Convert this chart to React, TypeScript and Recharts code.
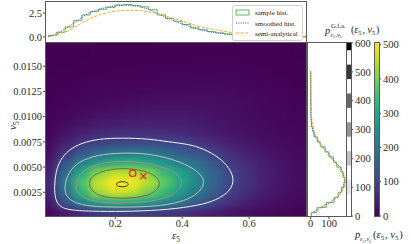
import React from 'react';
import { ScatterChart, Scatter, XAxis, YAxis, ReferenceArea } from 'recharts';

const W = 411;
const H = 244;
const FONT = "'Liberation Serif', 'DejaVu Serif', serif";

// ---- joint density p(eps5, v5) ----
const epsCols = [0, 0.05, 0.1, 0.15, 0.2, 0.25, 0.3, 0.35, 0.4, 0.45, 0.5, 0.55, 0.6, 0.65, 0.7, 0.75];
const vRows = [0.0005, 0.0015, 0.0025, 0.0035, 0.0045, 0.0055, 0.0065, 0.0075, 0.0085, 0.0095,
  0.0105, 0.0115, 0.0125, 0.0135, 0.0145, 0.0155, 0.0165, 0.0175];
const density = [
  [10, 38, 62, 78, 85, 85, 82, 76, 66, 52, 40, 27, 18, 12, 8, 5],
  [32, 128, 220, 285, 312, 300, 270, 230, 185, 140, 100, 65, 42, 28, 18, 11],
  [45, 180, 320, 430, 470, 455, 400, 330, 262, 195, 140, 92, 60, 39, 25, 16],
  [50, 200, 355, 465, 510, 500, 450, 375, 300, 225, 160, 105, 70, 45, 30, 18],
  [44, 175, 305, 410, 455, 450, 415, 335, 285, 215, 155, 102, 68, 44, 29, 18],
  [31, 123, 215, 275, 310, 320, 300, 255, 210, 180, 128, 85, 58, 38, 26, 16],
  [19, 77, 135, 170, 195, 200, 195, 175, 145, 125, 92, 62, 44, 30, 21, 14],
  [11, 43, 75, 95, 107, 110, 112, 108, 98, 75, 58, 42, 31, 22, 16, 11],
  [6, 25, 43, 55, 62, 64, 64, 62, 58, 46, 37, 28, 21, 16, 12, 8],
  [4, 14, 24, 32, 38, 42, 44, 44, 42, 37, 31, 24, 18, 13, 9, 6],
  [3, 8, 14, 19, 23, 27, 30, 31, 31, 29, 25, 20, 15, 11, 8, 5],
  [2, 5, 8, 11, 14, 17, 19, 21, 22, 22, 21, 18, 14, 10, 7, 4],
  [1, 3, 5, 7, 9, 11, 12, 14, 15, 16, 15, 13, 10, 8, 5, 3],
  [1, 2, 3, 4, 5, 6, 7, 8, 9, 10, 10, 9, 7, 5, 3, 2],
  [0, 1, 2, 2, 3, 3, 4, 4, 5, 5, 5, 5, 4, 3, 2, 1],
  [0, 0, 1, 1, 1, 2, 2, 2, 2, 3, 3, 3, 2, 2, 1, 1],
  [0, 0, 0, 1, 1, 1, 1, 1, 1, 1, 1, 1, 1, 1, 1, 0],
  [0, 0, 0, 0, 0, 0, 0, 1, 1, 1, 1, 1, 0, 0, 0, 0],
];

// ---- contour lines at 100..500 (eps5, v5) ----
const contour100 = [[0.018, 0.0031], [0.022, 0.0045], [0.035, 0.0057], [0.06, 0.0067], [0.1, 0.0074], [0.15, 0.0078],
  [0.22, 0.0079], [0.3, 0.0078], [0.36, 0.0075], [0.41, 0.0073], [0.45, 0.007], [0.5, 0.0062], [0.535, 0.0052],
  [0.557, 0.0039], [0.545, 0.0026], [0.5, 0.0017], [0.45, 0.0012], [0.36, 0.00078], [0.25, 0.0006], [0.15, 0.0006],
  [0.07, 0.0007], [0.035, 0.001], [0.02, 0.0018]];
const contour200 = [[0.048, 0.003], [0.056, 0.0042], [0.08, 0.0053], [0.13, 0.0061], [0.2, 0.0064], [0.28, 0.0064],
  [0.35, 0.006], [0.41, 0.0053], [0.45, 0.0045], [0.469, 0.0036], [0.455, 0.0026], [0.42, 0.0018], [0.36, 0.00125],
  [0.28, 0.00103], [0.18, 0.00102], [0.11, 0.00115], [0.07, 0.0016], [0.052, 0.0022]];
const contour300 = [[0.08, 0.0032], [0.09, 0.0042], [0.12, 0.005], [0.17, 0.0055], [0.23, 0.0056], [0.3, 0.0054],
  [0.36, 0.0048], [0.39, 0.0042], [0.402, 0.0035], [0.39, 0.0027], [0.36, 0.002], [0.3, 0.00155], [0.22, 0.0014],
  [0.15, 0.0015], [0.105, 0.0019], [0.086, 0.0025]];
const contour400 = [[0.12, 0.0034], [0.13, 0.0041], [0.16, 0.0046], [0.21, 0.0049], [0.26, 0.0048], [0.3, 0.0045],
  [0.325, 0.004], [0.335, 0.0034], [0.325, 0.0027], [0.3, 0.0022], [0.25, 0.0019], [0.2, 0.0019], [0.155, 0.0021],
  [0.13, 0.0026]];
const contour500 = [[0.201, 0.0033], [0.207, 0.00349], [0.221, 0.00358], [0.235, 0.00349], [0.241, 0.0033],
  [0.235, 0.00311], [0.221, 0.00302], [0.207, 0.00311]];
const contours = [contour100, contour200, contour300, contour400, contour500];
const contourColors = ['#f4f4f4', '#c2c2c2', '#959595', '#686868', '#2e2e2e'];

const modePoint = [{ x: 0.252, y: 0.0044 }];
const meanPoint = [{ x: 0.284, y: 0.0041 }];

// ---- top marginal (eps5) ----
const topHistWidth = 0.025;
const topHist = [0.15, 0.5, 1.05, 1.7, 2.3, 2.65, 2.9, 3.1, 3.35, 3.4, 3.3, 3.15, 2.85, 2.3, 1.95, 1.65, 1.3, 0.95,
  0.75, 0.55, 0.42, 0.3, 0.22, 0.16, 0.1, 0.08, 0.05, 0.04, 0.02, 0.02, 0.01];
const topEps = [0, 0.03, 0.06, 0.09, 0.12, 0.15, 0.18, 0.21, 0.24, 0.27, 0.3, 0.33, 0.36, 0.39, 0.42, 0.45, 0.48,
  0.51, 0.54, 0.57, 0.6, 0.65, 0.7, 0.77];
const topSmoothed = [0.05, 0.42, 1.05, 1.8, 2.5, 2.88, 3.15, 3.3, 3.3, 3.2, 2.9, 2.4, 1.9, 1.5, 1.1, 0.8, 0.55,
  0.4, 0.28, 0.2, 0.14, 0.08, 0.04, 0.02];
const topSemi = [0, 0.25, 0.65, 1.25, 1.85, 2.3, 2.6, 2.75, 2.8, 2.78, 2.65, 2.4, 2.1, 1.8, 1.45, 1.1, 0.88,
  0.68, 0.5, 0.37, 0.27, 0.16, 0.09, 0.04];

// ---- right marginal (v5) ----
const rightHistWidth = 0.0005;
const rightHist = [3, 35, 85, 128, 150, 168, 182, 187, 176, 165, 142, 125, 100, 78, 52, 36, 18, 12, 5, 3, 2, 1,
  0.5, 0.3, 0.2, 0, 0, 0, 0];
const rightV = [0, 0.0005, 0.001, 0.0015, 0.002, 0.0025, 0.003, 0.0035, 0.004, 0.0045, 0.005, 0.0055, 0.006,
  0.0065, 0.007, 0.0075, 0.008, 0.0085, 0.009, 0.0095, 0.01, 0.0105, 0.011, 0.0115, 0.012, 0.0125, 0.013,
  0.0135, 0.014, 0.0145];
const rightSmoothed = [0, 10, 58, 108, 145, 166, 178, 184, 183, 177, 160, 133, 112, 90, 69, 42, 25, 13, 6, 3,
  1.5, 1, 0.6, 0.4, 0.3, 0.2, 0.1, 0.1, 0, 0];
const rightSemi = [0, 8, 50, 100, 140, 168, 185, 190, 184, 170, 150, 128, 105, 82, 62, 45, 31, 20, 13, 8, 5, 3,
  2, 1.2, 0.8, 0.5, 0.3, 0.2, 0.1, 0.1];

// ---- colour bars ----
const VMAX = 505;
const viridisTicks = [0, 100, 200, 300, 400, 500];
const grayTicks = [0, 100, 200, 300, 400, 500, 600];
const grayLevels = [100, 200, 300, 400, 500, 600];
const grayLevelColors = ['#e6e6e6', '#c0c0c0', '#959595', '#686868', '#383838', '#000000'];

const VIRIDIS = ['#440154', '#482475', '#414487', '#355f8d', '#2a788e', '#21918c', '#22a884', '#44bf70',
  '#7ad151', '#bddf26', '#fde725'];

function viridis(t: number) {
  const c = Math.max(0, Math.min(1, t)) * 10;
  const i = Math.min(9, Math.floor(c));
  const f = c - i;
  const a = VIRIDIS[i];
  const b = VIRIDIS[i + 1];
  const ch = (s: string, k: number) => parseInt(s.slice(1 + 2 * k, 3 + 2 * k), 16);
  const mix = [0, 1, 2].map((k) => Math.round(ch(a, k) + (ch(b, k) - ch(a, k)) * f));
  return `rgb(${mix[0]},${mix[1]},${mix[2]})`;
}

const epsDomain = [-0.007, 0.77];
const vDomain = [0.00015, 0.0173];
const epsTicks = [0.2, 0.4, 0.6];
const vTicks = [0.0025, 0.005, 0.0075, 0.01, 0.0125, 0.015];

// plot boxes (pixels)
const HM = { l: 46, t: 43, r: 306, b: 216 };
const TOP = { l: 46, t: 2, r: 306, b: 42 };
const RT = { l: 308, t: 43, r: 346, b: 216 };
const GB = { l: 347, r: 351 };
const VB = { l: 375, r: 379 };

const cellW = ((HM.r - HM.l) / (epsDomain[1] - epsDomain[0])) * 0.05 + 1;
const cellH = ((HM.b - HM.t) / (vDomain[1] - vDomain[0])) * 0.001 + 1;

const heatData = vRows.flatMap((v, i) => epsCols.map((e, j) => ({ x: e, y: v, z: density[i][j] })));
const contourData = contours.map((c) => c.map(([x, y]) => ({ x, y })));

const stairs = (width: number, vals: number[]) => {
  const pts: { x: number; y: number }[] = [{ x: 0, y: 0 }];
  vals.forEach((h, i) => {
    pts.push({ x: i * width, y: h });
    pts.push({ x: (i + 1) * width, y: h });
  });
  pts.push({ x: vals.length * width, y: 0 });
  return pts;
};
const topHistData = stairs(topHistWidth, topHist);
const topSmoothData = topEps.map((x, i) => ({ x, y: topSmoothed[i] }));
const topSemiData = topEps.map((x, i) => ({ x, y: topSemi[i] }));
const rightHistData = stairs(rightHistWidth, rightHist).map((p) => ({ x: p.y, y: p.x }));
const rightSmoothData = rightV.map((y, i) => ({ x: rightSmoothed[i], y }));
const rightSemiData = rightV.map((y, i) => ({ x: rightSemi[i], y }));
const grayBarData = grayLevels.map((y) => ({ x: 0.5, y }));
const viridisBarData = viridisTicks.map((y) => ({ x: 0.5, y }));

const GREEN = '#5cb85c';
const BLUE = '#3b3bf5';
const ORANGE = '#ffa726';

const tickStyle = { fontSize: 10.5, fill: '#2a2a2a', fontFamily: FONT };
const Nothing = () => <g />;

const HeatCell = (props: any) => {
  const { cx, cy, payload } = props;
  if (cx == null || cy == null) return <g />;
  return (
    <rect x={cx - cellW / 2} y={cy - cellH / 2} width={cellW} height={cellH} fill={viridis(payload.z / VMAX)} />
  );
};

const RingMark = (props: any) => (
  <circle cx={props.cx} cy={props.cy} r={3.2} fill="none" stroke="#ff1a1a" strokeWidth={1.3} />
);
const CrossMark = (props: any) => {
  const { cx, cy } = props;
  const s = 3;
  return (
    <g stroke="#ff1a1a" strokeWidth={1.3}>
      <line x1={cx - s} y1={cy - s} x2={cx + s} y2={cy + s} />
      <line x1={cx - s} y1={cy + s} x2={cx + s} y2={cy - s} />
    </g>
  );
};

const layer: React.CSSProperties = { position: 'absolute', left: 0, top: 0 };

const curve = (data: { x: number; y: number }[], stroke: string, dash?: string) => (
  <Scatter
    data={data}
    shape={Nothing}
    line={{ stroke, strokeWidth: 1, strokeDasharray: dash, fill: 'none' }}
    isAnimationActive={false}
  />
);

const Box = ({ l, t, r, b }: { l: number; t: number; r: number; b: number }) => (
  <rect x={l - 0.5} y={t - 0.5} width={r - l + 1} height={b - t + 1} fill="none" stroke="#5a5a5a" strokeWidth={1} />
);

// a symbol with a subscript 5, e.g. ε₅ / v₅
const Sym = ({ s, size, sub, drop = 0.25 }: { s: string; size: number; sub: number; drop?: number }) => (
  <>
    <tspan fontStyle="italic" fontSize={size}>{s}</tspan>
    <tspan fontSize={sub} dy={size * drop}>5</tspan>
    <tspan fontSize={size} dy={-size * drop}>{'\u200a'}</tspan>
  </>
);

const Args = ({ x, y, size = 10.5 }: { x: number; y: number; size?: number }) => (
  <text x={x} y={y} fontSize={size} fill="#222">
    (<Sym s="ε" size={size} sub={size * 0.66} drop={0.18} />, <Sym s="v" size={size} sub={size * 0.66} drop={0.18} />)
  </text>
);

const SubPair = ({ x, y }: { x: number; y: number }) => (
  <text x={x} y={y} fontSize={6} fill="#222">
    <Sym s="ε" size={6} sub={4} />,<Sym s="v" size={6} sub={4} />
  </text>
);

export default function App() {
  return (
    <div style={{ position: 'absolute', left: 0, top: 0, width: W, height: H, background: '#fff', overflow: 'hidden', fontFamily: FONT }}>
      <style>{'.heat-cells { filter: url(#heatBlur); }'}</style>
      <svg width={0} height={0} style={{ position: 'absolute' }}>
        <defs>
          <filter id="heatBlur" x="-0.1" y="-0.1" width="1.2" height="1.2" colorInterpolationFilters="sRGB">
            <feGaussianBlur stdDeviation="5 3" />
            <feComponentTransfer>
              <feFuncA type="linear" slope={3} />
            </feComponentTransfer>
          </filter>
          <linearGradient id="viridisGrad" x1="0" y1="1" x2="0" y2="0">
            {VIRIDIS.map((c, i) => (
              <stop key={c} offset={`${i * 10}%`} stopColor={c} />
            ))}
          </linearGradient>
        </defs>
      </svg>

      {/* heatmap with contours */}
      <div style={layer}>
        <ScatterChart width={W} height={H} margin={{ top: HM.t, right: W - HM.r, bottom: 0, left: 0 }}>
          <XAxis type="number" dataKey="x" domain={epsDomain} allowDataOverflow ticks={epsTicks} interval={0}
            height={H - HM.b} tickSize={3} tickMargin={1} axisLine={false} tick={tickStyle}
            tickLine={{ stroke: '#444' }} tickFormatter={(v: number) => v.toFixed(1)} />
          <YAxis type="number" dataKey="y" domain={vDomain} allowDataOverflow ticks={vTicks} interval={0}
            width={HM.l} tickSize={3} tickMargin={1} axisLine={false} tick={tickStyle}
            tickLine={{ stroke: '#444' }} tickFormatter={(v: number) => v.toFixed(4)} />
          <Scatter className="heat-cells" data={heatData} shape={HeatCell} isAnimationActive={false} />
          {contourData.map((d, i) => (
            <Scatter key={`c${i}`} data={d} shape={Nothing} lineType="joint" lineJointType="basisClosed"
              line={{ stroke: contourColors[i], strokeWidth: 1, fill: 'none' }} isAnimationActive={false} />
          ))}
          <Scatter data={modePoint} shape={RingMark} isAnimationActive={false} />
          <Scatter data={meanPoint} shape={CrossMark} isAnimationActive={false} />
        </ScatterChart>
      </div>

      {/* top marginal */}
      <div style={layer}>
        <ScatterChart width={W} height={H} margin={{ top: TOP.t, right: W - TOP.r, bottom: H - TOP.b - 1, left: 0 }}>
          <XAxis type="number" dataKey="x" domain={epsDomain} allowDataOverflow ticks={epsTicks} interval={0}
            height={1} tickSize={3} tick={false} axisLine={false} tickLine={{ stroke: '#444' }} />
          <YAxis type="number" dataKey="y" domain={[-0.53, 3.66]} allowDataOverflow ticks={[0, 2.5]} interval={0}
            width={TOP.l} tickSize={3} tickMargin={1} axisLine={false} tick={tickStyle}
            tickLine={{ stroke: '#444' }} tickFormatter={(v: number) => v.toFixed(1)} />
          {curve(topHistData, GREEN)}
          {curve(topSmoothData, BLUE, '1 1.3')}
          {curve(topSemiData, ORANGE, '3 1.6')}
        </ScatterChart>
      </div>

      {/* right marginal */}
      <div style={layer}>
        <ScatterChart width={W} height={H} margin={{ top: RT.t, right: W - RT.r, bottom: 0, left: RT.l - 3 }}>
          <XAxis type="number" dataKey="x" domain={[-15, 193]} allowDataOverflow ticks={[0, 100]} interval={0}
            height={H - RT.b} tickSize={3} tickMargin={1} axisLine={false} tick={tickStyle}
            tickLine={{ stroke: '#444' }} />
          <YAxis type="number" dataKey="y" domain={vDomain} allowDataOverflow ticks={vTicks} interval={0}
            width={3} tickSize={3} tick={false} axisLine={false} tickLine={{ stroke: '#444' }} />
          {curve(rightHistData, GREEN)}
          {curve(rightSmoothData, BLUE, '1 1.3')}
          {curve(rightSemiData, ORANGE, '3 1.6')}
        </ScatterChart>
      </div>

      {/* contour-level colour bar */}
      <div style={layer}>
        <ScatterChart width={W} height={H} margin={{ top: HM.t, right: W - GB.r - 30, bottom: H - HM.b, left: GB.l }}>
          <XAxis type="number" dataKey="x" domain={[0, 1]} hide />
          <YAxis type="number" dataKey="y" orientation="right" domain={[0, 600]} ticks={grayTicks} interval={0}
            width={30} tickSize={2} tickMargin={2} axisLine={false} tick={{ ...tickStyle, textAnchor: 'start' }}
            tickLine={{ stroke: '#444' }} />
          {grayLevels.map((lv, i) => (
            <ReferenceArea key={lv} y1={lv - 25} y2={Math.min(600, lv + 25)} fill={grayLevelColors[i]}
              fillOpacity={1} stroke="none" />
          ))}
          <Scatter data={grayBarData} shape={Nothing} isAnimationActive={false} />
        </ScatterChart>
      </div>

      {/* density colour bar */}
      <div style={layer}>
        <ScatterChart width={W} height={H} margin={{ top: HM.t, right: W - VB.r - 28, bottom: H - HM.b, left: VB.l }}>
          <XAxis type="number" dataKey="x" domain={[0, 1]} hide />
          <YAxis type="number" dataKey="y" orientation="right" domain={[0, VMAX]} ticks={viridisTicks} interval={0}
            width={28} tickSize={2} tickMargin={2} axisLine={false} tick={{ ...tickStyle, textAnchor: 'start' }}
            tickLine={{ stroke: '#444' }} />
          <ReferenceArea y1={0} y2={VMAX} fill="url(#viridisGrad)" fillOpacity={1} stroke="none" />
          <Scatter data={viridisBarData} shape={Nothing} isAnimationActive={false} />
        </ScatterChart>
      </div>

      {/* frames, legend, labels */}
      <svg width={W} height={H} style={{ ...layer, pointerEvents: 'none' }} fontFamily={FONT}>
        <Box {...HM} />
        <Box {...TOP} />
        <Box {...RT} />
        <Box l={GB.l} t={HM.t} r={GB.r} b={HM.b} />
        <Box l={VB.l} t={HM.t} r={VB.r} b={HM.b} />

        <g>
          <rect x={232.5} y={5.5} width={70} height={35} rx={2} fill="#fff" fillOpacity={0.9} stroke="#cfcfcf" />
          <rect x={236} y={10} width={13} height={5} fill="none" stroke={GREEN} strokeWidth={1} />
          <text x={255} y={15} fontSize={7} fill="#222">sample hist.</text>
          <line x1={236} y1={23} x2={249} y2={23} stroke={BLUE} strokeWidth={1} strokeDasharray="1 1.3" />
          <text x={255} y={25.5} fontSize={7} fill="#222">smoothed hist.</text>
          <line x1={236} y1={33} x2={249} y2={33} stroke={ORANGE} strokeWidth={1} strokeDasharray="3 1.6" />
          <text x={255} y={35.5} fontSize={7} fill="#222">semi-analytical</text>
        </g>

        <text x={172} y={239} fontSize={11} fill="#222">
          <Sym s="ε" size={11} sub={7.5} />
        </text>
        <text x={12} y={134} fontSize={11} fill="#222" transform="rotate(-90 12 130)">
          <Sym s="v" size={11} sub={7.5} />
        </text>

        <text x={325} y={33.5} fontSize={10.5} fill="#222" fontStyle="italic">p</text>
        <text x={331} y={27.5} fontSize={6.5} fill="#222">G.f.a.</text>
        <SubPair x={330.5} y={36.5} />
        <Args x={351} y={33} size={10} />

        <text x={355} y={238} fontSize={10.5} fill="#222" fontStyle="italic">p</text>
        <SubPair x={360} y={241} />
        <Args x={373} y={238} />
      </svg>
    </div>
  );
}
